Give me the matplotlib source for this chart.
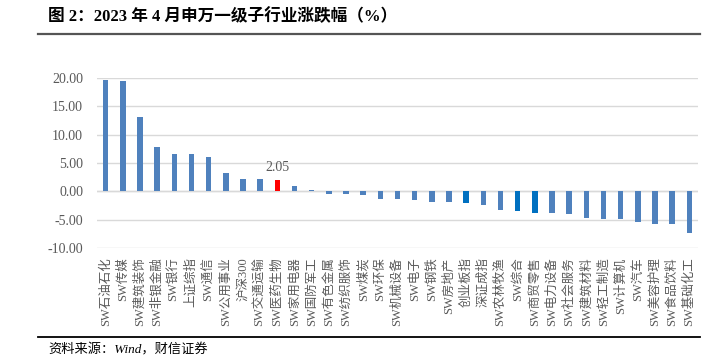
import matplotlib
matplotlib.use("Agg")
import matplotlib.pyplot as plt
from matplotlib.lines import Line2D

plt.rcParams['font.family'] = ['Liberation Serif', 'Noto Sans CJK SC', 'DejaVu Sans']

categories = ["SW石油石化", "SW传媒", "SW建筑装饰", "SW非银金融", "SW银行", "上证综指",
              "SW通信", "SW公用事业", "沪深300", "SW交通运输", "SW医药生物", "SW家用电器",
              "SW国防军工", "SW有色金属", "SW纺织服饰", "SW煤炭", "SW环保", "SW机械设备",
              "SW电子", "SW钢铁", "SW房地产", "创业板指", "深证成指", "SW农林牧渔",
              "SW综合", "SW商贸零售", "SW电力设备", "SW社会服务", "SW建筑材料", "SW轻工制造",
              "SW计算机", "SW汽车", "SW美容护理", "SW食品饮料", "SW基础化工"]
values = [19.70, 19.45, 13.05, 7.76, 6.65, 6.65, 6.00, 3.23, 2.24, 2.24, 2.05, 0.94,
          0.29, -0.41, -0.41, -0.65, -1.35, -1.35, -1.53, -1.94, -1.94, -2.12, -2.35, -3.24,
          -3.47, -3.82, -3.88, -4.06, -4.65, -4.94, -4.94, -5.36, -5.83, -5.83, -7.32]
highlight_red = ["SW医药生物"]
highlight_dark = ["创业板指", "SW综合", "SW商贸零售"]
yticks = [-10, -5, 0, 5, 10, 15, 20]

colors = []
for c in categories:
    if c in highlight_red:
        colors.append("#FF0000")
    elif c in highlight_dark:
        colors.append("#0070C0")
    else:
        colors.append("#4F81BD")

fig = plt.figure(figsize=(7.22, 3.62), dpi=100)
ax = fig.add_axes([97/722, 1-248/362, 601/722, 170/362])

x = list(range(len(categories)))
ax.bar(x, values, width=0.32, color=colors, zorder=3)
ax.set_xlim(-0.5, len(categories)-0.5)
ax.set_ylim(-10, 20)
ax.set_yticks(yticks)
ax.set_yticklabels([f"{v:.2f}" for v in yticks], fontsize=10, color="#595959")
ax.yaxis.grid(True, color="#D9D9D9", linewidth=1, zorder=0)
ax.axhline(0, color="#D9D9D9", linewidth=1, zorder=1)
for s in ax.spines.values():
    s.set_visible(False)
ax.tick_params(axis='y', length=0, pad=10)
ax.set_xticks([])

for xi, c in zip(x, categories):
    ax.text(xi, -0.055, c, transform=ax.get_xaxis_transform(), rotation=90,
            ha='center', va='top', fontsize=9, color="#595959")

ri = categories.index("SW医药生物")
ax.annotate(f"{values[ri]:.2f}", (ri, values[ri]), xytext=(0, 4), textcoords='offset points',
            ha='center', va='bottom', fontsize=10, color="#595959")

fig.text(48/722, 1-17/362, "图 2：2023 年 4 月申万一级子行业涨跌幅（%）", fontsize=12,
         fontweight='bold', ha='left', va='center', color="#000000")
fig.add_artist(Line2D([38/722, 700/722], [1-33.5/362, 1-33.5/362], color="#555555", linewidth=1.6))
fig.add_artist(Line2D([38/722, 700/722], [1-337/362, 1-337/362], color="#000000", linewidth=1.3))
fig.text(48/722, 1-350/362, "资料来源：Wind，财信证券", fontsize=9.5, style='italic',
         ha='left', va='center', color="#000000")

fig.savefig("out.png", dpi=100)
